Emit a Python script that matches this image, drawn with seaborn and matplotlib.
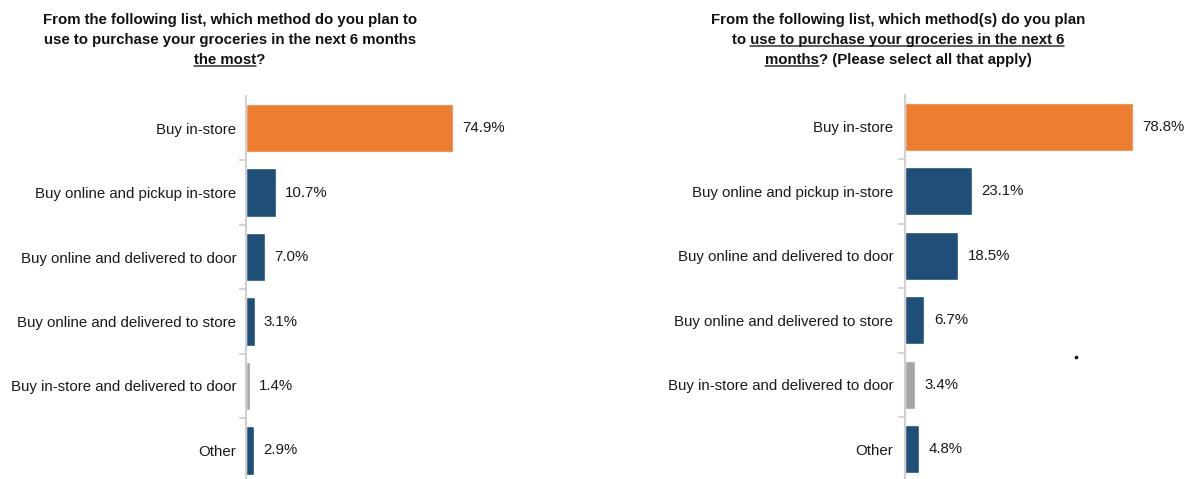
import matplotlib
matplotlib.use("Agg")
import matplotlib.pyplot as plt
import seaborn as sns
import pandas as pd

categories = [
    "Buy in-store",
    "Buy online and pickup in-store",
    "Buy online and delivered to door",
    "Buy online and delivered to store",
    "Buy in-store and delivered to door",
    "Other",
]
most_used = [74.9, 10.7, 7.0, 3.1, 1.4, 2.9]
all_used = [78.8, 23.1, 18.5, 6.7, 3.4, 4.8]

ORANGE = "#ED7D31"
NAVY = "#1F4E79"
GREY = "#A5A5A5"
bar_colors = [ORANGE, NAVY, NAVY, NAVY, GREY, NAVY]

sns.set_theme(style="white")
plt.rcParams["font.family"] = ["Liberation Sans", "DejaVu Sans"]

W, H = 1190, 479
fig = plt.figure(figsize=(W / 100, H / 100), dpi=100)


def px_axes(left_px, width_px, top_px, bottom_px):
    return fig.add_axes([left_px / W, (H - bottom_px) / H,
                         width_px / W, (bottom_px - top_px) / H])


def draw_panel(ax, values, pad):
    df = pd.DataFrame({"cat": categories, "val": values})
    sns.barplot(data=df, x="val", y="cat", hue="cat", palette=bar_colors,
                legend=False, orient="h", width=0.745, ax=ax, saturation=1)
    ax.set_xlim(0, 100)
    ax.set_ylim(len(categories) - 0.5, -0.5)
    ax.set_xlabel("")
    ax.set_ylabel("")
    ax.set_xticks([])
    for s in ["top", "right", "bottom"]:
        ax.spines[s].set_visible(False)
    ax.spines["left"].set_color("#D0D0D0")
    ax.spines["left"].set_linewidth(1.5)
    ax.set_yticks(range(len(categories)), categories)
    ax.tick_params(axis="y", which="major", length=0, pad=pad, labelsize=10.8,
                   labelcolor="#1a1a1a")
    ax.set_yticks([i + 0.5 for i in range(len(categories) - 1)], minor=True)
    ax.tick_params(axis="y", which="minor", length=5, width=1.2,
                   color="#D0D0D0", left=True)
    for i, v in enumerate(values):
        ax.text(v + 3.4, i, f"{v:.1f}%", va="center", ha="left",
                fontsize=10.8, color="#1a1a1a")


ax1 = px_axes(246, 276, 95.75, 482.75)
draw_panel(ax1, most_used, 7)
ax2 = px_axes(905, 289, 94.5, 481.5)
draw_panel(ax2, all_used, 8.5)

renderer = fig.canvas.get_renderer()
TITLE_KW = dict(fontsize=10.8, fontweight="bold", color="#111111",
                ha="center", va="center")


def text_width(s):
    t = fig.text(0, 0, s, **TITLE_KW)
    w = t.get_window_extent(renderer).width
    t.remove()
    return w


def title_line(cx, cy, line, underline=None, where="start"):
    t = fig.text(cx / W, 1 - cy / H, line, **TITLE_KW)
    bb = t.get_window_extent(renderer)
    if underline:
        uw = text_width(underline)
        if where == "start":
            x0, x1 = bb.x0, bb.x0 + uw
        else:
            x0, x1 = bb.x1 - uw, bb.x1
        y = bb.y0 + 1.0
        fig.add_artist(plt.Line2D([x0 / W, x1 / W], [y / H, y / H],
                                  color="#333333", lw=1.1,
                                  transform=fig.transFigure))


title_line(230, 20, "From the following list, which method do you plan to")
title_line(230, 40, "use to purchase your groceries in the next 6 months")
title_line(230, 60, "the most?", underline="the most", where="start")

title_line(898, 20, "From the following list, which method(s) do you plan")
title_line(898, 40, "to use to purchase your groceries in the next 6",
           underline="use to purchase your groceries in the next 6",
           where="end")
title_line(898, 60, "months? (Please select all that apply)",
           underline="months", where="start")

# small stray mark on the right panel
fig.add_artist(plt.Line2D([1076 / W], [1 - 357 / H], marker="o",
                          markersize=1.6, color="black", lw=0,
                          transform=fig.transFigure))

fig.savefig("out.png", dpi=100)
